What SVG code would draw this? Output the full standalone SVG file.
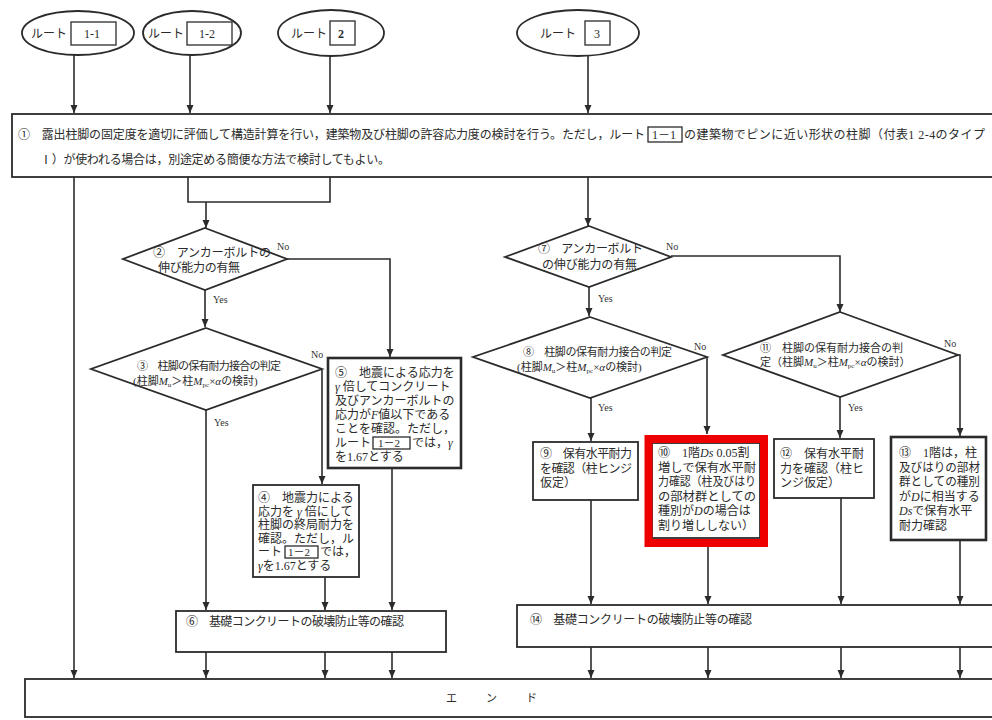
<svg xmlns="http://www.w3.org/2000/svg" width="992" height="720" viewBox="0 0 992 720">
<defs>
<marker id="ah" markerWidth="8" markerHeight="8" refX="8" refY="3.5" orient="auto" markerUnits="userSpaceOnUse">
<path d="M0,0 L8,3.5 L0,7 z" fill="#2b2b2b"/>
</marker>
<style>
.t{font-family:"Liberation Serif","Noto Sans CJK JP",serif;font-size:12px;fill:#2b2b2b}
.s{font-size:11px}
.c{font-family:"Noto Sans CJK JP",sans-serif}
.yn{font-family:"Liberation Serif",serif;font-size:10px;fill:#333}
.ln{stroke:#2b2b2b;stroke-width:1.6;fill:none}
.ar{marker-end:url(#ah)}
.bx{fill:#fff;stroke:#2b2b2b;stroke-width:1.8}
.bx2{fill:#fff;stroke:#2b2b2b;stroke-width:2.6}
.kb{fill:none;stroke:#2b2b2b;stroke-width:1.3}
.i{font-style:italic}
</style>
</defs>
<rect width="992" height="720" fill="#fff"/>

<g id="route1-1">
<ellipse cx="78" cy="33" rx="56" ry="22" class="bx"/>
<text class="t" x="31" y="38" font-size="11">ルート</text>
<rect x="71" y="22" width="45" height="23" class="kb"/>
<text class="t" x="84" y="38">1-1</text>
</g>
<g id="route1-2">
<ellipse cx="192" cy="33" rx="49" ry="22" class="bx"/>
<text class="t" x="148" y="38" font-size="11">ルート</text>
<rect x="187" y="22" width="45" height="23" class="kb"/>
<text class="t" x="199" y="38">1-2</text>
</g>
<g id="route2">
<ellipse cx="331" cy="33" rx="53" ry="23" class="bx"/>
<text class="t" x="291" y="38" font-size="11">ルート</text>
<rect x="330" y="21" width="25" height="24" class="kb"/>
<text class="t" x="338" y="38" font-weight="bold">2</text>
</g>
<g id="route3">
<ellipse cx="578" cy="33" rx="61" ry="23" class="bx" stroke="#555"/>
<text class="t" x="540" y="38" font-size="11" fill="#777">ルート</text>
<rect x="585" y="21" width="25" height="24" class="kb" stroke="#555"/>
<text class="t" x="594" y="38" fill="#777">3</text>
</g>

<g id="connectors">
<path class="ln ar" d="M74,55 V113"/>
<path class="ln ar" d="M190,55 V113"/>
<path class="ln ar" d="M330,56 V113"/>
<path class="ln ar" d="M588,56 V113"/>
<path class="ln ar" d="M74,177 V678"/>
<path class="ln" d="M188,177 V202 H330 V177"/>
<path class="ln ar" d="M206,202 V228"/>
<path class="ln ar" d="M287,259 H390 V357"/>
<path class="ln ar" d="M205,290 V327"/>
<path class="ln ar" d="M322,370 V484"/>
<path class="ln ar" d="M206,410 V610"/>
<path class="ln ar" d="M392,468 V610"/>
<path class="ln ar" d="M325,577 V610"/>
<path class="ln ar" d="M206,652 V678"/>
<path class="ln ar" d="M325,652 V678"/>
<path class="ln ar" d="M392,652 V678"/>
<path class="ln ar" d="M588,177 V226"/>
<path class="ln ar" d="M671,256 H840 V312"/>
<path class="ln ar" d="M589,287 V316"/>
<path class="ln ar" d="M707,357 V434"/>
<path class="ln ar" d="M591,398 V441"/>
<path class="ln ar" d="M958,355 H960 V436"/>
<path class="ln ar" d="M840,397 V438"/>
<path class="ln ar" d="M591,500 V604"/>
<path class="ln ar" d="M708,547 V604"/>
<path class="ln ar" d="M841,498 V604"/>
<path class="ln ar" d="M960,540 V604"/>
<path class="ln ar" d="M591,647 V678"/>
<path class="ln ar" d="M708,647 V678"/>
<path class="ln ar" d="M841,647 V678"/>
<path class="ln ar" d="M960,647 V678"/>
<text class="yn" x="277" y="250">No</text>
<text class="yn" x="213" y="303">Yes</text>
<text class="yn" x="311" y="358">No</text>
<text class="yn" x="214" y="426">Yes</text>
<text class="yn" x="666" y="250">No</text>
<text class="yn" x="598" y="302">Yes</text>
<text class="yn" x="694" y="350">No</text>
<text class="yn" x="598" y="411">Yes</text>
<text class="yn" x="944" y="347">No</text>
<text class="yn" x="848" y="411">Yes</text>
</g>

<g id="n1">
<rect x="12" y="114" width="992" height="63" class="bx"/>
<text class="t" x="18" y="139" font-size="12.5" textLength="627" lengthAdjust="spacing"><tspan class="c">①</tspan>　露出柱脚の固定度を適切に評価して構造計算を行い，建築物及び柱脚の許容応力度の検討を行う。ただし，ルート</text>
<rect x="648" y="127" width="34" height="15" class="kb"/>
<text class="t" x="652" y="139" font-size="11">1－1</text>
<text class="t" x="684" y="139" font-size="12.5" textLength="301" lengthAdjust="spacing">の建築物でピンに近い形状の柱脚（付表1 2-4のタイプ</text>
<text class="t" x="40" y="164" font-size="12" textLength="350" lengthAdjust="spacing">Ⅰ）が使われる場合は，別途定める簡便な方法で検討してもよい。</text>
</g>

<g id="n2">
<polygon points="205,228 287,259 205,290 123,259" class="bx"/>
<text class="t" x="153" y="257" textLength="118" lengthAdjust="spacing"><tspan class="c">②</tspan>　アンカーボルトの</text>
<text class="t" x="158" y="272" textLength="82" lengthAdjust="spacing">伸び能力の有無</text>
</g>

<g id="n3">
<polygon points="206,328 322,369 206,410 91,369" class="bx"/>
<text class="t s" x="137" y="370" textLength="144" lengthAdjust="spacing"><tspan class="c">③</tspan>　柱脚の保有耐力接合の判定</text>
<text class="t s" x="133" y="385">(柱脚<tspan class="i">M</tspan><tspan font-size="7" dy="2">u</tspan><tspan dy="-2">＞柱</tspan><tspan class="i">M</tspan><tspan font-size="7" dy="2">pc</tspan><tspan dy="-2">×</tspan><tspan class="i">α</tspan>の検討)</text>
</g>

<g id="n4">
<rect x="253" y="485" width="106" height="92" class="bx"/>
<text class="t" x="258" y="502"><tspan class="c">④</tspan>　地震力による</text>
<text class="t" x="258" y="515.5">応力を <tspan class="i">γ</tspan> 倍にして</text>
<text class="t" x="258" y="529">柱脚の終局耐力を</text>
<text class="t" x="258" y="542.5">確認。ただし，ル</text>
<text class="t" x="258" y="556">ート</text>
<rect x="285" y="546" width="33" height="12" class="kb"/>
<text class="t s" x="288" y="556">1－2</text>
<text class="t" x="320" y="556">では，</text>
<text class="t" x="258" y="569.5"><tspan class="i">γ</tspan>を1.67とする</text>
</g>

<g id="n5">
<rect x="328" y="358" width="133" height="110" class="bx2"/>
<text class="t" x="335" y="377"><tspan class="c">⑤</tspan>　地震による応力を</text>
<text class="t" x="335" y="391"><tspan class="i">γ</tspan> 倍してコンクリート</text>
<text class="t" x="335" y="405">及びアンカーボルトの</text>
<text class="t" x="335" y="419">応力が<tspan class="i">F</tspan>値以下である</text>
<text class="t" x="335" y="433">ことを確認。ただし，</text>
<text class="t" x="335" y="447">ルート</text>
<rect x="373" y="437" width="37" height="12" class="kb"/>
<text class="t s" x="378" y="447">1－2</text>
<text class="t" x="412" y="447">では，<tspan class="i">γ</tspan></text>
<text class="t" x="335" y="461">を1.67とする</text>
</g>

<g id="n6">
<rect x="176" y="611" width="270" height="41" class="bx"/>
<text class="t" x="186" y="626" textLength="218" lengthAdjust="spacing"><tspan class="c">⑥</tspan>　基礎コンクリートの破壊防止等の確認</text>
</g>

<g id="n7">
<polygon points="589,226 671,257 589,287 505,257" class="bx"/>
<text class="t" x="538" y="253" textLength="105" lengthAdjust="spacing"><tspan class="c">⑦</tspan>　アンカーボルト</text>
<text class="t" x="542" y="269" textLength="95" lengthAdjust="spacing">の伸び能力の有無</text>
</g>

<g id="n8">
<polygon points="590,317 707,357 590,398 473,357" class="bx"/>
<text class="t s" x="523" y="356" textLength="149" lengthAdjust="spacing"><tspan class="c">⑧</tspan>　柱脚の保有耐力接合の判定</text>
<text class="t s" x="517" y="371">(柱脚<tspan class="i">M</tspan><tspan font-size="7" dy="2">u</tspan><tspan dy="-2">＞柱</tspan><tspan class="i">M</tspan><tspan font-size="7" dy="2">pc</tspan><tspan dy="-2">×</tspan><tspan class="i">α</tspan>の検討)</text>
</g>

<g id="n9">
<rect x="533" y="442" width="105" height="58" class="bx"/>
<text class="t" x="540" y="458" textLength="92" lengthAdjust="spacing"><tspan class="c">⑨</tspan>　保有水平耐力</text>
<text class="t" x="540" y="473" textLength="92" lengthAdjust="spacing">を確認（柱ヒンジ</text>
<text class="t" x="540" y="487">仮定）</text>
</g>

<g id="n10">
<rect x="652" y="443" width="108" height="95" class="bx" stroke-width="1"/>
<text class="t" x="658" y="457"><tspan class="c">⑩</tspan>　1階<tspan class="i">Ds</tspan> 0.05割</text>
<text class="t" x="658" y="471.5" textLength="98" lengthAdjust="spacingAndGlyphs">増しで保有水平耐</text>
<text class="t" x="658" y="486" textLength="98" lengthAdjust="spacingAndGlyphs">力確認（柱及びはり</text>
<text class="t" x="658" y="500.5" textLength="98" lengthAdjust="spacingAndGlyphs">の部材群としての</text>
<text class="t" x="658" y="515">種別が<tspan class="i">D</tspan>の場合は</text>
<text class="t" x="658" y="529.5">割り増ししない）</text>
<rect x="648.5" y="439" width="115.5" height="104" fill="none" stroke="#ee0000" stroke-width="8"/>
</g>

<g id="n11">
<polygon points="840,312 958,355 840,397 723,355" class="bx"/>
<text class="t s" x="760" y="352" textLength="143" lengthAdjust="spacing"><tspan class="c">⑪</tspan>　柱脚の保有耐力接合の判</text>
<text class="t s" x="760" y="366">定（柱脚<tspan class="i">M</tspan><tspan font-size="7" dy="2">u</tspan><tspan dy="-2">＞柱</tspan><tspan class="i">M</tspan><tspan font-size="7" dy="2">pc</tspan><tspan dy="-2">×</tspan><tspan class="i">α</tspan>の検討）</text>
</g>

<g id="n12">
<rect x="774" y="439" width="100" height="59" class="bx"/>
<text class="t" x="780" y="458"><tspan class="c">⑫</tspan>　保有水平耐</text>
<text class="t" x="780" y="473">力を確認（柱ヒ</text>
<text class="t" x="780" y="487">ンジ仮定）</text>
</g>

<g id="n13">
<rect x="891" y="437" width="95" height="103" class="bx2"/>
<text class="t" x="899" y="457"><tspan class="c">⑬</tspan>　1階は，柱</text>
<text class="t" x="899" y="471.5" textLength="81" lengthAdjust="spacingAndGlyphs">及びはりの部材</text>
<text class="t" x="899" y="486" textLength="81" lengthAdjust="spacingAndGlyphs">群としての種別</text>
<text class="t" x="899" y="500.5">が<tspan class="i">D</tspan>に相当する</text>
<text class="t" x="899" y="515"><tspan class="i">Ds</tspan>で保有水平</text>
<text class="t" x="899" y="529.5">耐力確認</text>
</g>

<g id="n14">
<rect x="517" y="605" width="490" height="42" class="bx"/>
<text class="t" x="530" y="624" textLength="222" lengthAdjust="spacing"><tspan class="c">⑭</tspan>　基礎コンクリートの破壊防止等の確認</text>
</g>

<g id="end">
<rect x="25" y="679" width="985" height="38" class="bx"/>
<text class="t s" x="446" y="702" letter-spacing="9">エ　ン　ド</text>
</g>
</svg>
